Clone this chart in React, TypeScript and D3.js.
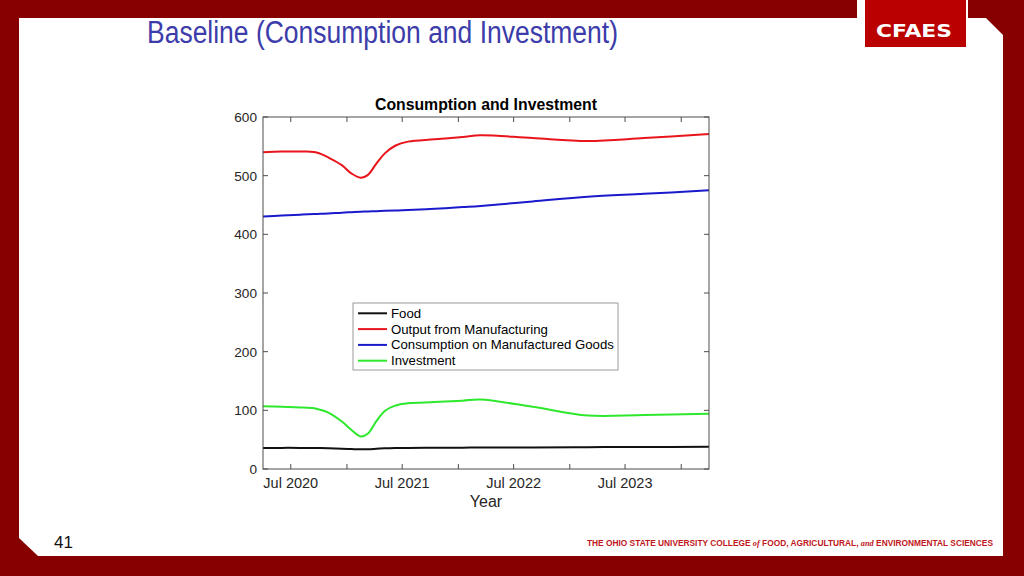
import React from "react";
import * as d3 from "d3";

const dates = [
  "2020-04-01", "2020-06-01", "2020-08-01", "2020-09-15", "2020-10-05", "2020-11-01",
  "2020-12-15", "2021-01-15", "2021-02-15", "2021-03-10", "2021-04-08",
  "2021-05-05", "2021-06-08", "2021-07-20", "2021-10-15", "2022-01-15",
  "2022-03-15", "2022-09-01", "2023-03-01", "2023-09-01", "2024-04-01",
];
const food = [36, 36, 36, 35.8, 35.6, 35.3, 34.5, 34, 33.5, 33.7, 34.5, 35.3, 35.8, 36, 36.2, 36.4, 36.5, 36.8, 37.2, 37.5, 38];
const output = [540, 541, 541, 540.5, 537.5, 531, 518, 504, 496.5, 501, 521, 538, 551, 558, 562, 566, 569, 564, 559, 564, 571];
const consumption = [430.5, 432, 433.5, 434.5, 435, 435.5, 437, 437.8, 438.5, 439, 439.5, 440, 440.5, 441.5, 443.5, 446.5, 448.5, 456, 464, 469, 475];
const investment = [107, 106, 105, 103.5, 101, 96, 81, 67, 55.5, 60, 82, 99, 108, 112, 114, 116.5, 118.5, 106, 91, 92, 94];

const seriesNames = ["Food", "Output from Manufacturing", "Consumption on Manufactured Goods", "Investment"];
const seriesColors = ["#111111", "#e8151b", "#1a1acc", "#2ee82e"];
const seriesValues = [food, output, consumption, investment];
const yTicks = [0, 100, 200, 300, 400, 500, 600];

const W = 1024, H = 576;
const M = { left: 263, right: 709, top: 117, bottom: 469 };
const DARK = "#870000";
const FONT = "'Liberation Sans', Arial, Helvetica, sans-serif";

export default function App() {
  const parse = d3.timeParse("%Y-%m-%d");
  const xs = dates.map((d) => parse(d) as Date);
  const x = d3.scaleTime().domain([new Date(2020, 3, 1), new Date(2024, 3, 1)]).range([M.left, M.right]);
  const y = d3.scaleLinear().domain([0, 600]).range([M.bottom, M.top]);
  const xTicks = d3.timeMonth.every(6)!.range(new Date(2020, 3, 1), new Date(2024, 3, 2)).filter((d) => d.getMonth() === 0 || d.getMonth() === 6);
  const fmt = d3.timeFormat("%b %Y");
  const line = d3.line<number>().x((_, i) => x(xs[i])).y((v) => y(v)).curve(d3.curveCatmullRom.alpha(0.5));
  const tl = 5;
  const axisCol = "#4d4d4d";
  const textCol = "#262626";
  const cx = (M.left + M.right) / 2;

  return (
    <svg width={W} height={H} style={{ position: "absolute", left: 0, top: 0, display: "block" }} xmlns="http://www.w3.org/2000/svg">
      {/* frame */}
      <rect x={0} y={0} width={W} height={H} fill={DARK} />
      <path d="M19 18 L986 18 L1003 35 L1003 556 L38 556 L19 538 Z" fill="#ffffff" />
      <rect x={857} y={0} width={111} height={20} fill="#ffffff" />
      <rect x={865} y={0} width={101} height={47} fill="#bb0000" />
      <text x={876} y={37} fill="#ffffff" fontFamily="'DejaVu Sans', sans-serif" fontWeight="bold" fontSize={18} textLength={76} lengthAdjust="spacingAndGlyphs">CFAES</text>
      <text x={147} y={43} fill="#3c3caa" fontFamily="'Liberation Sans Narrow', 'Arial Narrow', 'Liberation Sans', Arial, sans-serif" fontSize={31} textLength={471} lengthAdjust="spacingAndGlyphs">Baseline (Consumption and Investment)</text>
      <text x={54} y={548} fill="#111" fontFamily={FONT} fontSize={17}>41</text>
      <text x={587} y={546} fill="#c0161c" fontFamily={FONT} fontWeight="bold" fontSize={8.3} textLength={406} lengthAdjust="spacingAndGlyphs">
        THE OHIO STATE UNIVERSITY COLLEGE <tspan fontStyle="italic" fontFamily="'Liberation Serif', serif">of</tspan> FOOD, AGRICULTURAL, <tspan fontStyle="italic" fontFamily="'Liberation Serif', serif">and</tspan> ENVIRONMENTAL SCIENCES
      </text>

      {/* chart */}
      <text x={cx} y={110} textAnchor="middle" fontFamily={FONT} fontWeight="bold" fontSize={15.8} fill="#000">Consumption and Investment</text>
      {seriesValues.map((vals, i) => (
        <path key={i} d={line(vals) || ""} fill="none" stroke={seriesColors[i]} strokeWidth={2} />
      ))}
      <rect x={M.left} y={M.top} width={M.right - M.left} height={M.bottom - M.top} fill="none" stroke={axisCol} strokeWidth={1} />
      {yTicks.map((t) => (
        <g key={t}>
          <line x1={M.left} x2={M.left + tl} y1={y(t)} y2={y(t)} stroke={axisCol} />
          <line x1={M.right} x2={M.right - tl} y1={y(t)} y2={y(t)} stroke={axisCol} />
          <text x={257} y={y(t) + 5} textAnchor="end" fontFamily={FONT} fontSize={13.6} fill={textCol}>{t}</text>
        </g>
      ))}
      {xTicks.map((d, i) => (
        <g key={i}>
          <line x1={x(d)} x2={x(d)} y1={M.bottom} y2={M.bottom - tl} stroke={axisCol} />
          <line x1={x(d)} x2={x(d)} y1={M.top} y2={M.top + tl} stroke={axisCol} />
          {d.getMonth() === 6 && (
            <text x={x(d)} y={488} textAnchor="middle" fontFamily={FONT} fontSize={14.5} fill={textCol}>{fmt(d)}</text>
          )}
        </g>
      ))}
      <text x={cx} y={507} textAnchor="middle" fontFamily={FONT} fontSize={16} fill={textCol}>Year</text>

      {/* legend */}
      <rect x={353} y={303} width={265} height={67} fill="#ffffff" stroke="#9a9a9a" strokeWidth={1} />
      {seriesNames.map((n, i) => {
        const ry = 313.3 + i * 15.8;
        return (
          <g key={n}>
            <line x1={358} x2={387} y1={ry} y2={ry} stroke={seriesColors[i]} strokeWidth={2} />
            <text x={391} y={ry + 4.5} fontFamily={FONT} fontSize={13.2} fill="#000">{n}</text>
          </g>
        );
      })}
    </svg>
  );
}
